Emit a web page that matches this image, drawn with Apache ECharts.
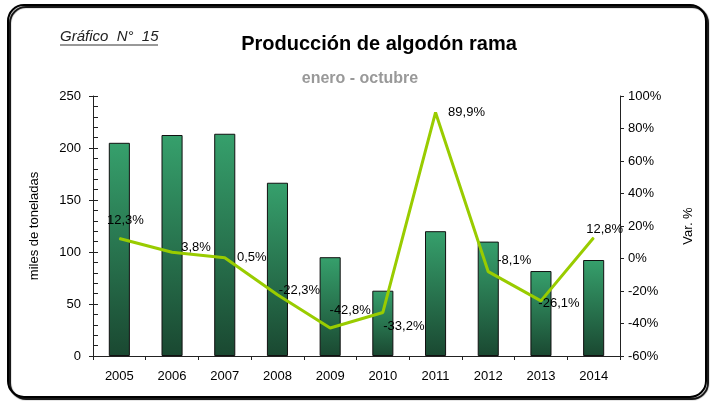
<!DOCTYPE html>
<html>
<head>
<meta charset="utf-8">
<script src="https://cdn.jsdelivr.net/npm/echarts@6/dist/echarts.min.js"></script>
<style>
  html, body { margin: 0; padding: 0; background: #fff; }
  #main { width: 715px; height: 405px; }
</style>
</head>
<body>
<div id="main"></div>
<script>
// datos
const years = ['2005', '2006', '2007', '2008', '2009', '2010', '2011', '2012', '2013', '2014'];
const produccion = [205, 212.5, 213.7, 166.6, 95, 62.8, 120, 110, 81.7, 92.3];
const variacion = [12.3, 3.8, 0.5, -22.3, -42.8, -33.2, 89.9, -8.1, -26.1, 12.8];
// desplazamiento de cada etiqueta respecto a su punto
const labelOffsets = [[6, -18], [24, -5], [27, 0], [22, -4], [20, -18], [21, 14], [31, 0], [26, -11], [18, 3], [11, -8]];

const font = 'Liberation Sans, Arial, sans-serif';
const axisColor = '#222';

let myChart = echarts.init(document.getElementById('main'));

let lineData = variacion.map(function (v, i) {
  return {
    value: v,
    label: { offset: labelOffsets[i] }
  };
});

myChart.setOption({
  animation: false,
  backgroundColor: '#fff',
  textStyle: { fontFamily: font },
  graphic: [
    {
      type: 'rect',
      shape: { x: 8, y: 5, width: 698, height: 392, r: 16 },
      style: {
        fill: 'none', stroke: '#000', lineWidth: 2,
        shadowColor: '#000', shadowOffsetX: 2, shadowOffsetY: 2, shadowBlur: 1
      },
      z: -10
    },
    {
      type: 'text', left: 60, top: 29,
      style: { text: 'Gráfico  N°  15', font: 'italic 15px ' + font, fill: '#222' }
    },
    {
      type: 'line',
      shape: { x1: 60, y1: 45, x2: 158, y2: 45 },
      style: { stroke: '#333', lineWidth: 1 }
    }
  ],
  title: [{
    text: 'Producción de algodón rama',
    left: 374, top: 29, textAlign: 'center',
    textStyle: { fontSize: 20, fontWeight: 'bold', color: '#000', fontFamily: font }
  }, {
    text: 'enero - octubre',
    left: 355, top: 66, textAlign: 'center',
    textStyle: { fontSize: 16, fontWeight: 'bold', color: '#999', fontFamily: font }
  }],
  grid: { left: 93, right: 95, top: 96, bottom: 49 },
  xAxis: [{
    type: 'category',
    data: years,
    axisLine: { lineStyle: { color: axisColor } },
    axisTick: { show: true, inside: false, length: 4, lineStyle: { color: axisColor } },
    axisLabel: { color: '#000', fontSize: 13, margin: 14, fontFamily: font }
  }],
  yAxis: [{
    type: 'value',
    position: 'left',
    min: 0, max: 250, interval: 50,
    name: 'miles de toneladas',
    nameLocation: 'middle',
    nameRotate: 90,
    nameGap: 52,
    nameTextStyle: { fontSize: 13, color: '#000', fontFamily: font },
    splitLine: { show: false },
    axisLine: { show: true, lineStyle: { color: axisColor } },
    axisTick: { show: true, inside: true, length: 5, lineStyle: { color: axisColor } },
    minorTick: { show: true, splitNumber: 5, length: 5, lineStyle: { color: axisColor } },
    axisLabel: { color: '#000', fontSize: 13, margin: 12, fontFamily: font }
  }, {
    // ticks mayores hacia afuera
    type: 'value',
    position: 'left',
    min: 0, max: 250, interval: 50,
    splitLine: { show: false },
    axisLine: { show: false },
    axisTick: { show: true, inside: false, length: 4, lineStyle: { color: axisColor } },
    axisLabel: { show: false }
  }, {
    type: 'value',
    position: 'right',
    min: -60, max: 100, interval: 20,
    name: 'Var. %',
    nameLocation: 'middle',
    nameRotate: 90,
    nameGap: 62,
    nameTextStyle: { fontSize: 13, color: '#000', fontFamily: font },
    splitLine: { show: false },
    axisLine: { show: true, lineStyle: { color: axisColor } },
    axisTick: { show: true, inside: false, length: 4, lineStyle: { color: axisColor } },
    axisLabel: { color: '#000', fontSize: 13, margin: 8, fontFamily: font, formatter: '{value}%' }
  }],
  series: [{
    type: 'bar',
    yAxisIndex: 0,
    data: produccion,
    barWidth: '40%',
    itemStyle: {
      borderColor: '#111',
      borderWidth: 1,
      color: new echarts.graphic.LinearGradient(0, 0, 0, 1, [
        { offset: 0, color: '#36a06c' },
        { offset: 1, color: '#1a4831' }
      ])
    },
    z: 2
  }, {
    type: 'line',
    yAxisIndex: 2,
    data: lineData,
    symbol: 'circle',
    symbolSize: 1,
    itemStyle: { color: '#99cc00' },
    lineStyle: { color: '#99cc00', width: 3 },
    label: {
      show: true,
      position: 'inside',
      color: '#000',
      fontSize: 13,
      fontFamily: font,
      formatter: function (p) {
        return p.value.toFixed(1).replace('.', ',') + '%';
      }
    },
    z: 3
  }]
});
</script>
</body>
</html>
